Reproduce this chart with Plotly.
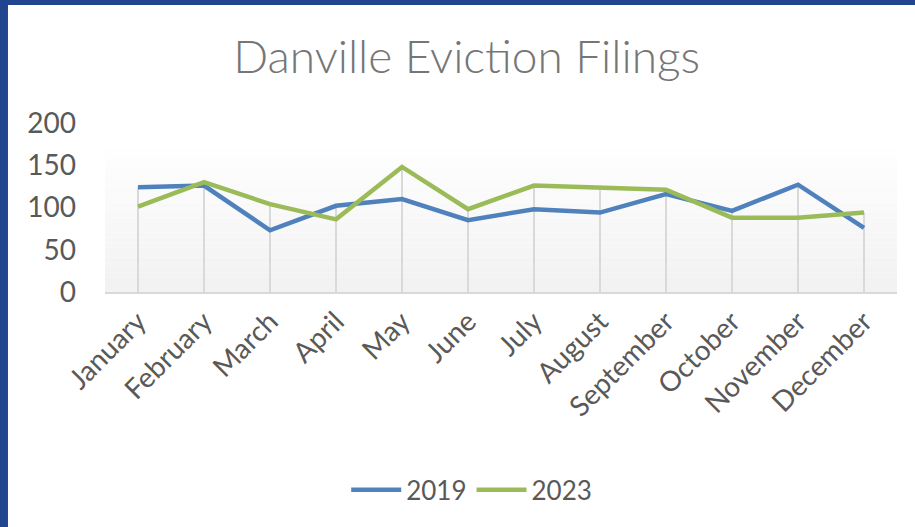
import plotly.graph_objects as go

months = ["January", "February", "March", "April", "May", "June",
          "July", "August", "September", "October", "November", "December"]
filings_2019 = [124, 126, 73, 102, 110, 85, 98, 94, 116, 96, 127, 76]
filings_2023 = [101, 130, 104, 86, 148, 98, 126, 124, 121, 88, 88, 94]

FONT = "Lato"
BLUE = "#4F81BD"
GREEN = "#9BBB59"

fig = go.Figure()

# fond dégradé de la zone de tracé (blanc en haut, gris clair en bas)
steps = 30
top_val = 176
for i in range(steps):
    t = i / (steps - 1)
    c = int(242 + (255 - 242) * t)
    fig.add_shape(type="rect", xref="paper", yref="y",
                  x0=0, x1=1,
                  y0=top_val * i / steps, y1=top_val * (i + 1) / steps,
                  fillcolor=f"rgb({c},{c},{c})", line_width=0, layer="below")

# lignes de projection (du point le plus haut jusqu'à l'axe)
drop_x, drop_y = [], []
for m, a, b in zip(months, filings_2019, filings_2023):
    drop_x += [m, m, None]
    drop_y += [0, max(a, b), None]
fig.add_trace(go.Scatter(x=drop_x, y=drop_y, mode="lines", showlegend=False,
                         hoverinfo="skip", line=dict(color="#d9d9d9", width=2)))

fig.add_trace(go.Scatter(x=months, y=filings_2019, mode="lines", name="2019",
                         line=dict(color=BLUE, width=4.5)))
fig.add_trace(go.Scatter(x=months, y=filings_2023, mode="lines", name="2023",
                         line=dict(color=GREEN, width=4.5)))

# cadre bleu (gauche et haut)
fig.add_shape(type="rect", xref="paper", yref="paper", x0=-0.2, x1=-0.1225,
              y0=-2, y1=2, fillcolor="#21468f", line_width=0)
fig.add_shape(type="rect", xref="paper", yref="paper", x0=-0.2, x1=1.2,
              y0=1.698, y1=2, fillcolor="#21468f", line_width=0)

fig.update_layout(
    width=915, height=527,
    margin=dict(l=105, r=18, t=123, b=235),
    paper_bgcolor="white",
    plot_bgcolor="rgba(0,0,0,0)",
    font=dict(family=FONT, color="#595959"),
    title=dict(text="Danville Eviction Filings", x=0.51, xanchor="center",
               y=0.892, yanchor="middle",
               font=dict(family=FONT, size=46, color="#767676", weight=300)),
    legend=dict(orientation="h", x=0.463, xanchor="center", y=-1.17, yanchor="middle",
                font=dict(size=26, color="#595959"), bgcolor="rgba(0,0,0,0)",
                itemwidth=50),
    showlegend=True,
)
fig.update_xaxes(
    type="category", range=[-0.5, 11.5], tickangle=-45,
    showgrid=False, showline=True, linecolor="#d9d9d9", linewidth=2,
    ticks="", tickfont=dict(size=28, color="#595959"), fixedrange=True,
)
fig.update_yaxes(
    range=[0, 200], dtick=50, showgrid=False, zeroline=False, showline=False,
    ticks="", tickfont=dict(size=28, color="#595959"), ticklabelstandoff=28,
    fixedrange=True,
)

fig.write_html("out.html", config={"displayModeBar": False},
               post_script="document.body.style.margin='0';")
